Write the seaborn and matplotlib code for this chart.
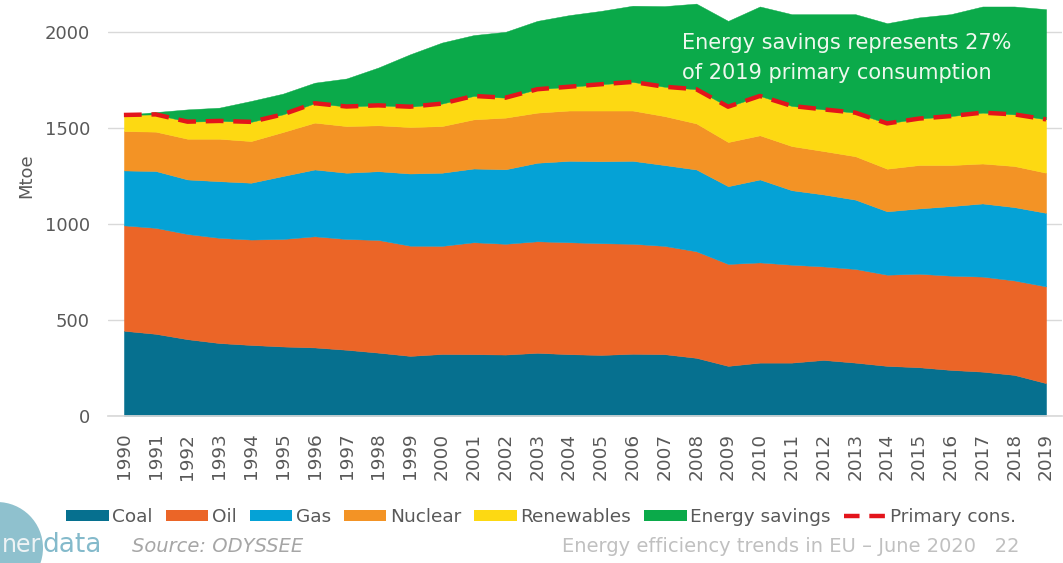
import numpy as np
import pandas as pd
import seaborn as sns
import matplotlib.pyplot as plt
from matplotlib.patches import Circle, Patch
from matplotlib.lines import Line2D
from matplotlib.transforms import IdentityTransform

# EU primary energy consumption by source (Mtoe)
years = list(range(1990, 2020))
coal = [444, 428, 400, 380, 370, 362, 357, 345, 330, 313, 323, 322, 320, 329, 322,
        318, 324, 322, 303, 261, 278, 278, 292, 278, 261, 254, 240, 231, 214, 171]
oil = [549, 552, 548, 548, 549, 560, 579, 577, 587, 574, 563, 583, 577, 581, 583,
       582, 573, 564, 555, 531, 522, 510, 487, 488, 475, 487, 491, 495, 492, 504]
gas = [286, 296, 284, 295, 296, 328, 348, 345, 358, 376, 381, 384, 388, 409, 424,
       427, 432, 421, 426, 405, 432, 388, 375, 361, 330, 340, 362, 381, 382, 383]
nuclear = [205, 205, 212, 221, 217, 229, 244, 243, 239, 242, 243, 256, 269, 261, 262,
           264, 262, 255, 240, 230, 230, 230, 226, 226, 222, 226, 214, 208, 214, 209]
renewables = [84, 90, 89, 93, 100, 92, 101, 102, 104, 106, 117, 122, 104, 122, 124,
              137, 149, 153, 178, 184, 205, 209, 217, 227, 236, 242, 255, 265, 269, 278]
savings = [0, 12, 64, 69, 109, 108, 107, 146, 197, 273, 318, 317, 343, 356, 373,
           382, 397, 420, 446, 447, 466, 478, 496, 513, 522, 527, 531, 553, 562, 574]
primary = [1568, 1571, 1533, 1537, 1532, 1571, 1629, 1612, 1618, 1611, 1627, 1667, 1658, 1702, 1715,
           1728, 1740, 1715, 1702, 1611, 1667, 1615, 1597, 1580, 1524, 1549, 1562, 1580, 1571, 1545]

labels = ["Coal", "Oil", "Gas", "Nuclear", "Renewables", "Energy savings"]
colors = ["#06708F", "#EB6527", "#05A2D6", "#F39325", "#FDD912", "#0BAA4A"]
red = "#E3141B"
grey = "#595959"

df = pd.DataFrame({"year": years, "primary": primary})

sns.set_theme(style="white")
plt.rcParams["font.family"] = ["DejaVu Sans"]

fig = plt.figure(figsize=(10.63, 5.63), dpi=100)
ax = fig.add_axes([108 / 1063, 147 / 563, 954 / 1063, 414.7 / 563])

ax.stackplot(years, coal, oil, gas, nuclear, renewables, savings,
             colors=colors, linewidth=0.3, edgecolor="face")
sns.lineplot(data=df, x="year", y="primary", ax=ax, color=red, lw=3.2,
             linestyle=(0, (4, 2.2)), zorder=5)

ax.set_xlim(1989.5, 2019.5)
ax.set_ylim(0, 2160)
ax.set_yticks([0, 500, 1000, 1500, 2000])
ax.set_xticks(years)
ax.set_xticklabels([str(y) for y in years], rotation=90)
ax.set_xticks(np.arange(1989.5, 2020, 1), minor=True)
ax.yaxis.grid(True, color="#D9D9D9", lw=1)
ax.set_axisbelow(True)
ax.tick_params(axis="y", length=0, pad=13, labelsize=13, labelcolor=grey)
ax.tick_params(axis="x", which="major", length=0, pad=12, labelsize=13.3, labelcolor=grey)
ax.tick_params(axis="x", which="minor", length=6, width=1, color="#D9D9D9", direction="out")
for s in ["top", "right", "left"]:
    ax.spines[s].set_visible(False)
ax.spines["bottom"].set_color("#D9D9D9")
ax.set_xlabel("")
ax.set_ylabel("Mtoe", fontsize=13, color=grey)
ax.yaxis.set_label_coords(-0.0765, 0.579)

ax.text(2007.55, 1943, "Energy savings represents 27%", color="#EEF8EE",
        fontsize=15, ha="left", va="center")
ax.text(2007.55, 1786, "of 2019 primary consumption", color="#EEF8EE",
        fontsize=15, ha="left", va="center")

handles = [Patch(facecolor=c, edgecolor="none") for c in colors]
handles.append(Line2D([], [], color=red, lw=3.2, linestyle=(0, (3.5, 2.2))))
fig.legend(handles, labels + ["Primary cons."], loc="center", bbox_to_anchor=(0.509, 0.082),
           ncol=7, frameon=False, fontsize=13.3, handlelength=2.3, handleheight=0.5,
           handletextpad=0.2, columnspacing=0.7, labelcolor=grey)

# footer: logo, source and slide caption
fig.add_artist(Circle((-3, 563 - 548), 46, transform=IdentityTransform(),
                      facecolor="#8FC1CE", edgecolor="none"))
ner = fig.text(0.002, 1 - 545 / 563, "ner", fontsize=17, color="#EEF3F5", va="center", ha="left")
fig.canvas.draw()
ner_right = ner.get_window_extent().x1
fig.text((ner_right + 1) / 1063, 1 - 545 / 563, "data", fontsize=19, color="#84BACB",
         va="center", ha="left")
fig.text(132 / 1063, 1 - 547 / 563, "Source: ODYSSEE", fontsize=14, style="italic",
         color="#A6A6A6", va="center", ha="left")
fig.text(1020 / 1063, 1 - 547 / 563, "Energy efficiency trends in EU \u2013 June 2020   22",
         fontsize=14, color="#C0C0C0", va="center", ha="right")

fig.savefig("out.png", dpi=100)
